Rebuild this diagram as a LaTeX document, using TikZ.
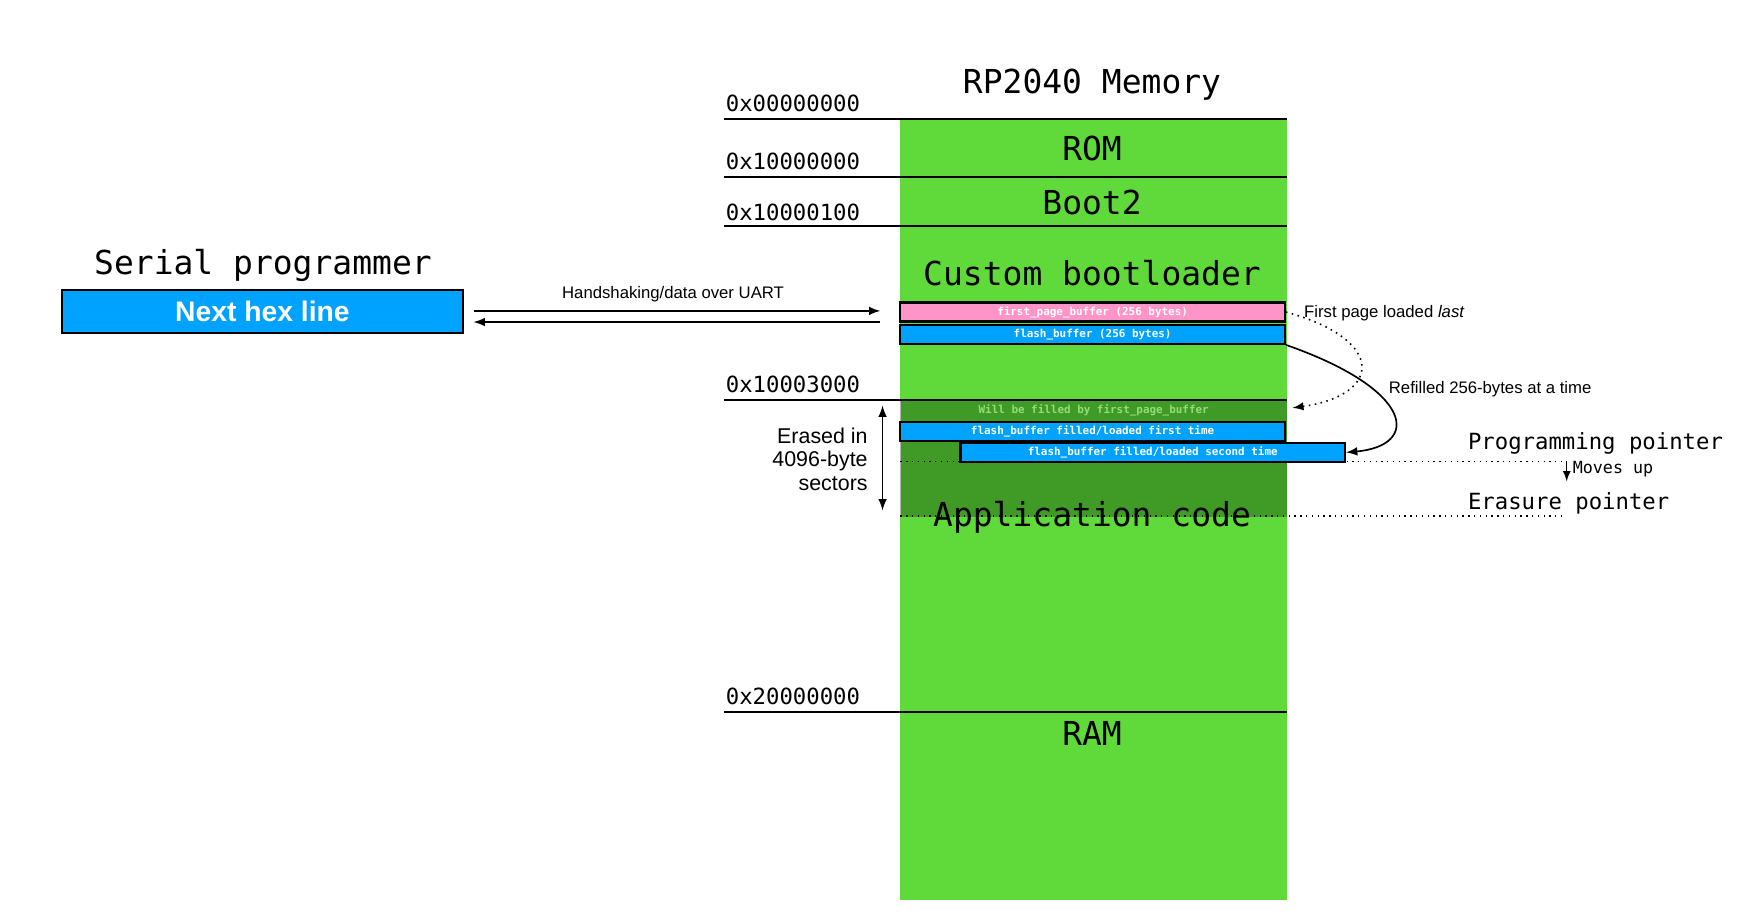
\documentclass[tikz,border=0pt]{standalone}
\usepackage{fontspec}
\setsansfont{Liberation Sans}
\setmonofont{DejaVu Sans Mono}
\usetikzlibrary{arrows}
\usetikzlibrary{shapes}

\definecolor{memGreen}{RGB}{96,218,58}
\definecolor{sectorGreen}{RGB}{64,154,38}
\definecolor{fillText}{RGB}{150,220,120}
\definecolor{bufBlue}{RGB}{0,162,255}
\definecolor{bufPink}{RGB}{255,148,200}

\newcommand{\regionFont}{\ttfamily\fontsize{14.8}{17}\selectfont}
\newcommand{\addrFont}{\ttfamily\fontsize{10}{12}\selectfont}
\newcommand{\noteMono}{\ttfamily\fontsize{7.5}{9}\selectfont}
\newcommand{\bufFont}{\ttfamily\bfseries\fontsize{4.9}{6}\selectfont}
\newcommand{\noteFont}{\sffamily\fontsize{7.5}{9}\selectfont}
\newcommand{\sideFont}{\sffamily\fontsize{9.6}{10.5}\selectfont}

\begin{document}
\begin{tikzpicture}[x = 50pt, y = -50pt, font=\sffamily]
	\tikzstyle{regionStyle}=[inner sep = 0pt, font = \regionFont]
	\tikzstyle{addrStyle}=[anchor = base west, inner sep = 0pt, font = \addrFont]
	\tikzstyle{bufferStyle}=[draw, line width = 1pt, minimum width = 172.5pt, minimum height = 8.5pt, inner sep = 0pt, text = white, font = \bufFont]
	\tikzstyle{noteStyle}=[anchor = west, inner sep = 0pt, font = \noteFont]
	\tikzstyle{pointerStyle}=[anchor = west, inner sep = 0pt, font = \addrFont]
	\tikzstyle{arrowStyle}=[line width = 0.75pt, -latex]
	\tikzstyle{pointerLine}=[line width = 0.6pt, dotted]
	\useasboundingbox (0, 0) rectangle (15.66, 8.24);
	% memory map
	\fill[memGreen] (8.08, 1.07) rectangle (11.55, 8.08);
	\fill[sectorGreen] (8.08, 3.60) rectangle (11.55, 4.64);
	\draw[gray!60, line width = 0.5pt] (8.08, 3.60) -- (8.08, 4.64);
	\node[regionStyle] (title) at (9.80, 0.76) {RP2040 Memory};
	\node[addrStyle] (a0) at (6.51, 1.00) {0x00000000};
	\node[addrStyle] (a1) at (6.51, 1.52) {0x10000000};
	\node[addrStyle] (a2) at (6.51, 1.98) {0x10000100};
	\node[addrStyle] (a3) at (6.51, 3.52) {0x10003000};
	\node[addrStyle] (a4) at (6.51, 6.32) {0x20000000};
	\foreach \y in {1.07, 1.59, 2.03, 3.59, 6.39}
		\draw[line width = 1pt] (6.50, \y) -- (11.55, \y);
	\node[regionStyle] (rom) at (9.80, 1.33) {ROM};
	\node[regionStyle] (boot) at (9.80, 1.82) {Boot2};
	\node[regionStyle] (custom) at (9.80, 2.45) {Custom bootloader};
	\node[regionStyle] (ram) at (9.80, 6.58) {RAM};
	% buffers
	\node[bufferStyle, fill = bufPink] (pink) at (9.805, 2.80) {first\_page\_buffer (256 bytes)};
	\node[bufferStyle, fill = bufBlue] (flash) at (9.805, 3.00) {flash\_buffer (256 bytes)};
	\node[bufferStyle, draw = none, fill = sectorGreen, text = fillText] (willFill) at (9.815, 3.685) {Will be filled by first\_page\_buffer};
	\node[bufferStyle, fill = bufBlue] (first) at (9.805, 3.87) {flash\_buffer filled/loaded first time};
	\node[bufferStyle, fill = bufBlue] (second) at (10.345, 4.06) {flash\_buffer filled/loaded second time};
	% pointers
	\draw[pointerLine] (8.08, 4.14) -- (14.05, 4.14);
	\draw[pointerLine] (8.08, 4.63) -- (14.05, 4.63);
	\node[regionStyle] (app) at (9.80, 4.64) {Application code};
	\node[pointerStyle] (prog) at (13.17, 3.98) {Programming pointer};
	\node[pointerStyle] (erase) at (13.17, 4.52) {Erasure pointer};
	\coordinate (moveTop) at (14.06, 4.14);
	\coordinate (moveBot) at (14.06, 4.32);
	\draw[line width = 0.6pt, -latex] (moveTop) -- (moveBot);
	\node[pointerStyle, font = \noteMono] (moves) at (14.11, 4.21) {Moves up};
	% serial programmer
	\node[regionStyle] (serial) at (2.36, 2.38) {Serial programmer};
	\node[draw, line width = 1pt, fill = bufBlue, minimum width = 180pt, minimum height = 19pt, inner sep = 0pt, text = white, font = \sffamily\bfseries\fontsize{12.7}{14}\selectfont] (next) at (2.355, 2.795) {Next hex line};
	\coordinate (uartL1) at (4.25, 2.79);
	\coordinate (uartR1) at (7.90, 2.79);
	\coordinate (uartL2) at (4.25, 2.89);
	\coordinate (uartR2) at (7.90, 2.89);
	\draw[arrowStyle] (uartL1) -- (uartR1);
	\draw[arrowStyle] (uartR2) -- (uartL2);
	\node[noteStyle, anchor = center] (uart) at (6.04, 2.64) {Handshaking/data over UART};
	% buffer arrows
	\node[noteStyle] (lastNote) at (11.70, 2.81) {First page loaded \textit{last}};
	\draw[line width = 0.7pt, dotted, -latex] (pink.east) .. controls (12.45, 3.05) and (12.40, 3.55) .. (11.60, 3.66);
	\node[noteStyle] (refill) at (12.46, 3.49) {Refilled 256-bytes at a time};
	\draw[arrowStyle] (flash.south east) .. controls (12.70, 3.50) and (12.75, 4.00) .. (second.east);
	% erase sectors
	\node[anchor = east, align = right, inner sep = 0pt, font = \sideFont] (sectors) at (7.79, 4.12) {Erased in\\4096-byte\\sectors};
	\coordinate (eraseTop) at (7.92, 3.64);
	\coordinate (eraseBot) at (7.92, 4.58);
	\draw[line width = 0.75pt, latex-latex] (eraseTop) -- (eraseBot);
\end{tikzpicture}
\end{document}
